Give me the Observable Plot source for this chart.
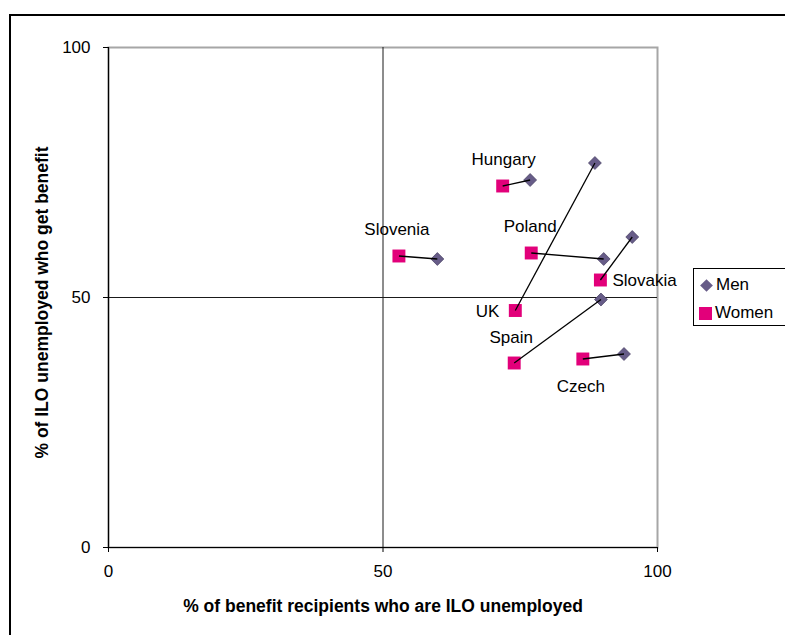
<!DOCTYPE html>
<html>
<head>
<meta charset="utf-8">
<script src="https://cdn.jsdelivr.net/npm/d3@7"></script>
<script src="https://cdn.jsdelivr.net/npm/@observablehq/plot@0.6"></script>
<style>
  html, body { margin: 0; padding: 0; background: #fff; }
  #wrap { position: relative; width: 785px; height: 635px; overflow: hidden; font-family: "Liberation Sans", Arial, sans-serif; }
  #border { position: absolute; left: 9px; top: 14px; width: 900px; height: 800px; border-left: 2px solid #000; border-top: 2px solid #000; }
  #legend { position: absolute; left: 693px; top: 268px; width: 120px; height: 56px; border: 1px solid #000; background: #fff; font-size: 17px; color: #000; }
  .item { position: absolute; left: 5px; display: flex; align-items: center; }
  .sw { display: inline-block; margin-right: 3px; }
  .sw.men { width: 9px; height: 9px; background: #675c88; transform: rotate(45deg); margin: 0 5px 0 3px; }
  .sw.women { width: 13px; height: 13px; background: #e2007a; }
</style>
</head>
<body>
<div id="wrap">
  <div id="border"></div>
  <div id="chart"></div>
  <div id="legend">
    <div class="item" style="top:6px"><span class="sw men"></span><span>Men</span></div>
    <div class="item" style="top:34px"><span class="sw women"></span><span>Women</span></div>
  </div>
</div>
<script>
// Benefit coverage by country and sex
const countries = ["Hungary", "UK", "Poland", "Slovakia", "Spain", "Czech", "Slovenia"];
// % of benefit recipients who are ILO unemployed
const menX   = [76.8, 88.6, 90.2, 95.4, 89.7, 93.9, 59.9];
const womenX = [71.8, 74.1, 77.0, 89.6, 73.9, 86.4, 52.9];
// % of ILO unemployed who get benefit
const menY   = [73.5, 76.9, 57.7, 62.1, 49.6, 38.7, 57.7];
const womenY = [72.3, 47.4, 58.9, 53.5, 36.9, 37.7, 58.3];
const ticks = [0, 50, 100];
const xTitle = "% of benefit recipients who are ILO unemployed";
const yTitle = "% of ILO unemployed who get benefit";

const rows = countries.map((c, i) => ({
  country: c, mx: menX[i], my: menY[i], wx: womenX[i], wy: womenY[i]
}));

// label placement around each women's marker
const labelPos = {
  Hungary:  {dx: 1,   dy: -26, anchor: "middle"},
  UK:       {dx: -16, dy: 1,   anchor: "end"},
  Poland:   {dx: -1,  dy: -26, anchor: "middle"},
  Slovakia: {dx: 12,  dy: 1,   anchor: "start"},
  Spain:    {dx: -3,  dy: -25, anchor: "middle"},
  Czech:    {dx: -2,  dy: 28,  anchor: "middle"},
  Slovenia: {dx: -2,  dy: -26, anchor: "middle"}
};

const labelMarks = rows.map(r => {
  const p = labelPos[r.country];
  return Plot.text([r], {x: "wx", y: "wy", text: "country", dx: p.dx, dy: p.dy,
    textAnchor: p.anchor, fontSize: 17, fill: "#000"});
});

const chart = Plot.plot({
  width: 785,
  height: 635,
  marginLeft: 108,
  marginRight: 128,
  marginTop: 47,
  marginBottom: 88,
  style: {fontFamily: "Liberation Sans, Arial, sans-serif", fontSize: "17px", color: "#000", background: "transparent"},
  x: {domain: [0, 100]},
  y: {domain: [0, 100]},
  marks: [
    Plot.frame({stroke: "#a6a6a6", strokeWidth: 2}),
    Plot.ruleX([50], {stroke: "#1a1a1a", strokeWidth: 1}),
    Plot.ruleY([50], {stroke: "#1a1a1a", strokeWidth: 1}),
    Plot.ruleX([0], {stroke: "#000", strokeWidth: 1.2}),
    Plot.ruleY([0], {stroke: "#000", strokeWidth: 1.2}),
    Plot.axisX({ticks, tickSize: 5, tickPadding: 12, label: null, fontSize: 17}),
    Plot.axisY({ticks, tickSize: 5, tickPadding: 13, label: null, fontSize: 17}),
    Plot.text([yTitle], {frameAnchor: "left", dx: -66, dy: 5, rotate: -90, textAnchor: "middle", lineAnchor: "middle",
      fontWeight: "bold", fontSize: 17.5, fill: "#000"}),
    Plot.text([xTitle], {frameAnchor: "bottom", dy: 59, textAnchor: "middle", lineAnchor: "middle",
      fontWeight: "bold", fontSize: 17.5, fill: "#000"}),
    Plot.dot(rows, {x: "wx", y: "wy", symbol: "square", r: 7.3, fill: "#e2007a", stroke: "none"}),
    Plot.dot(rows, {x: "mx", y: "my", symbol: "diamond2", r: 5.8, fill: "#675c88", stroke: "#4e4668", strokeWidth: 0.8}),
    Plot.link(rows, {x1: "wx", y1: "wy", x2: "mx", y2: "my", stroke: "#000", strokeWidth: 1.3}),
    ...labelMarks
  ]
});
document.getElementById("chart").appendChild(chart);
</script>
</body>
</html>
